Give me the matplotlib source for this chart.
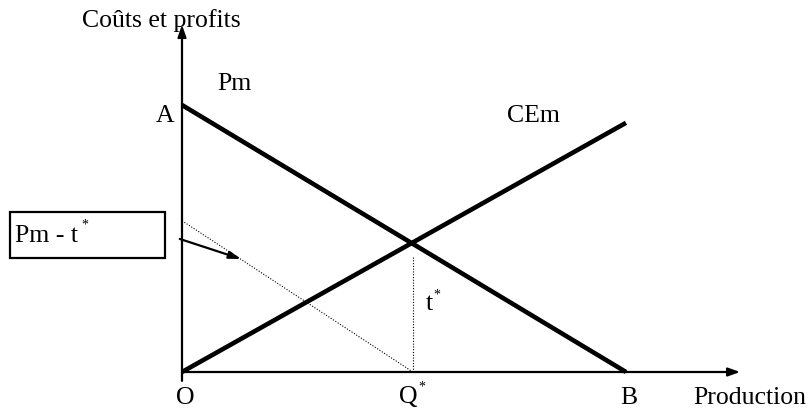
import matplotlib.pyplot as plt
from matplotlib.patches import Rectangle

plt.rcParams['font.family'] = ['Liberation Serif', 'DejaVu Serif']

# courbes (unites arbitraires, O = origine)
pm_q = [0, 10]
pm_p = [6, 0]
cem_q = [0, 10]
cem_p = [0, 5.6]
# demande nette de la taxe (Pm - t*)
net_q = [0, 5.2]
net_p = [3.4, 0]
q_star = 5.2
t_top = 2.6

x_axis_end = 12.57
y_axis_end = 7.8

fig = plt.figure(figsize=(8.11, 4.08), dpi=100)
ax = fig.add_axes([0, 0, 1, 1])
ax.set_xlim(-4.099, 14.167)
ax.set_ylim(-0.809, 8.36)
ax.axis('off')

# axes avec fleches
ax.annotate('', xy=(x_axis_end, 0), xytext=(0, 0),
            arrowprops=dict(arrowstyle='-|>,head_length=0.7,head_width=0.25', lw=1.6, color='black',
                            shrinkA=0, shrinkB=0))
ax.annotate('', xy=(0, y_axis_end), xytext=(0, -0.2),
            arrowprops=dict(arrowstyle='-|>,head_length=0.7,head_width=0.25', lw=1.6, color='black',
                            shrinkA=0, shrinkB=0))

ax.plot(pm_q, pm_p, color='black', lw=3.3, solid_capstyle='butt')
ax.plot(cem_q, cem_p, color='black', lw=3.3, solid_capstyle='butt')
ax.plot(net_q, net_p, color='black', lw=0.8, ls=(0, (1, 1.5)))
ax.plot([q_star, q_star], [0, t_top], color='black', lw=0.8, ls=(0, (1, 1.5)))

# encadre Pm - t*
ax.add_patch(Rectangle((-3.875, 2.56), 3.49, 1.04, fill=False, lw=1.6, ec='black'))
ax.annotate('', xy=(1.33, 2.54), xytext=(-0.05, 2.99),
            arrowprops=dict(arrowstyle='-|>,head_length=0.7,head_width=0.22', lw=1.6, color='black',
                            shrinkA=0, shrinkB=0))

fs = 18.5
ax.text(-2.25, 7.75, 'Coûts et profits', fontsize=fs, va='baseline')
ax.text(0.79, 6.34, 'Pm', fontsize=fs, va='baseline')
ax.text(-0.18, 5.62, 'A', fontsize=fs, va='baseline', ha='right')
ax.text(7.32, 5.62, 'CEm', fontsize=fs, va='baseline')
ax.text(5.50, 1.39, 't', fontsize=fs, va='baseline')
ax.text(5.66, 1.74, '*', fontsize=10, va='center')
ax.text(0.08, -0.72, 'O', fontsize=fs, va='baseline', ha='center')
ax.text(4.89, -0.70, 'Q', fontsize=fs, va='baseline')
ax.text(5.32, -0.34, '*', fontsize=10, va='center')
ax.text(10.07, -0.72, 'B', fontsize=fs, va='baseline', ha='center')
ax.text(11.51, -0.72, 'Production', fontsize=fs, va='baseline')
ax.text(-3.76, 2.92, 'Pm - t', fontsize=fs, va='baseline')
ax.text(-2.27, 3.31, '*', fontsize=10, va='center')

fig.savefig('out.png', dpi=100)
